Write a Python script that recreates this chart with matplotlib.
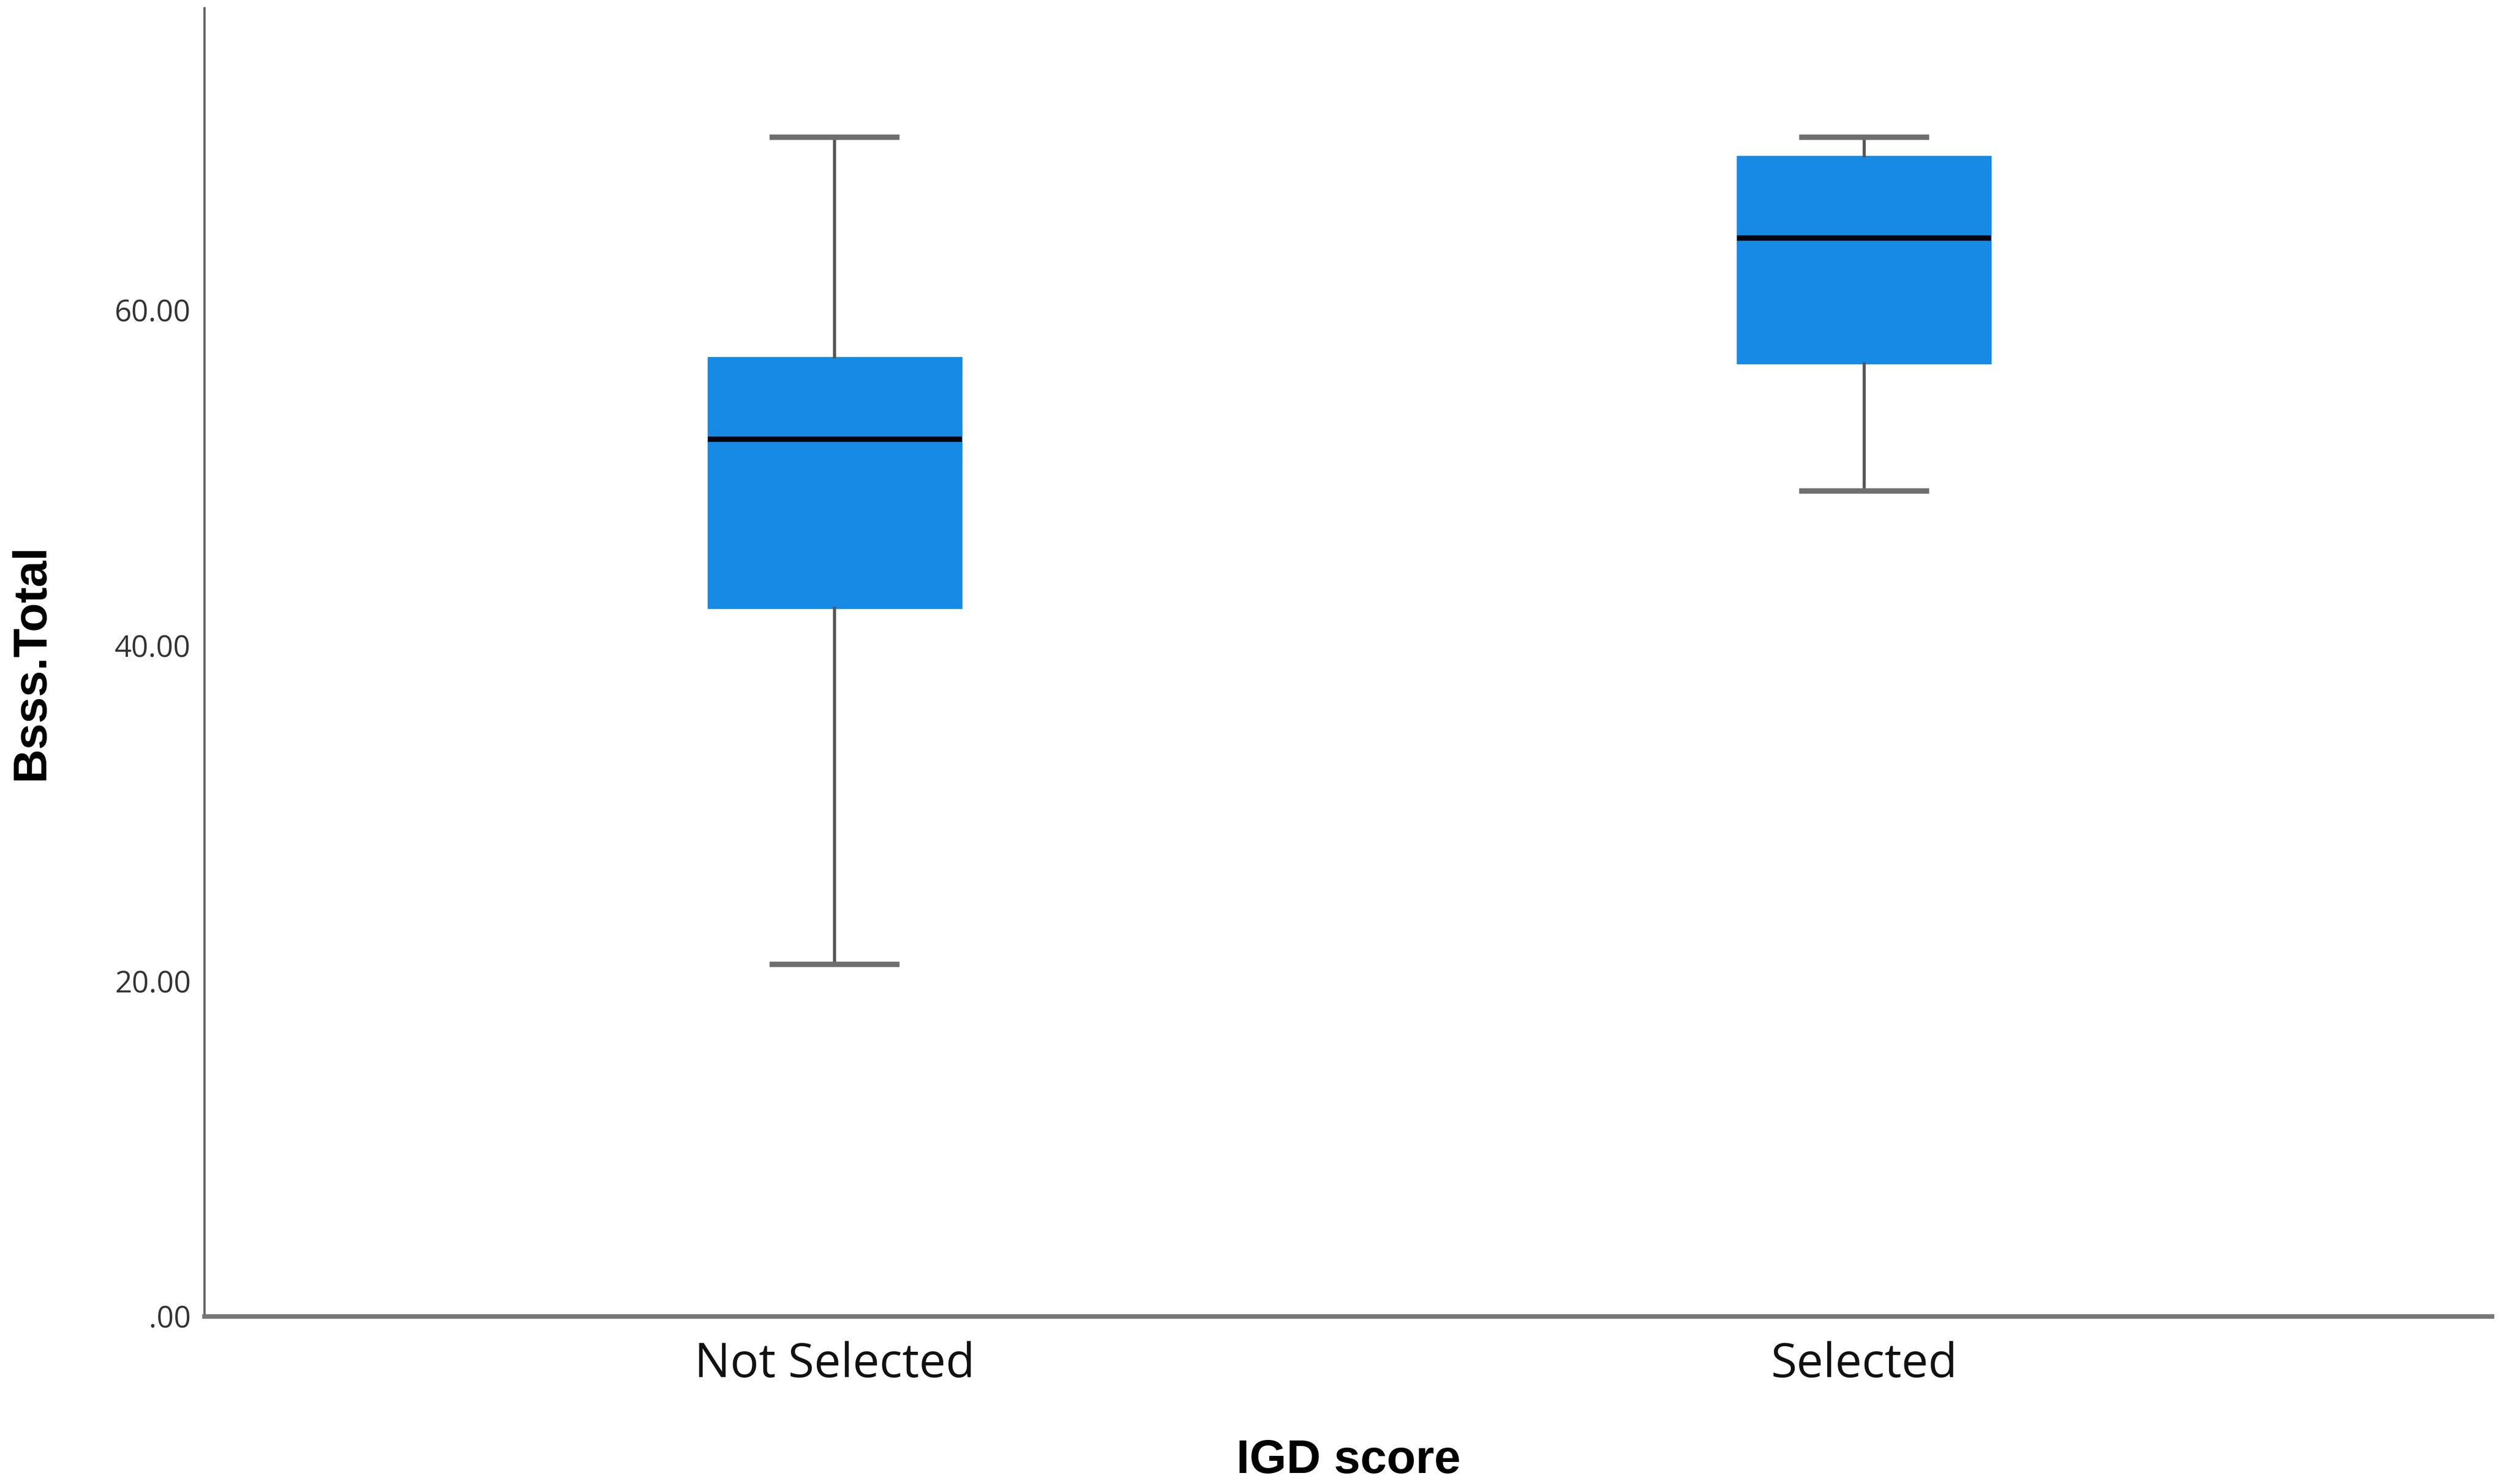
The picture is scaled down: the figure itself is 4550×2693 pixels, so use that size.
import matplotlib
matplotlib.use("Agg")
import matplotlib.pyplot as plt

# values (Bsss.Total by IGD score)
groups = ["Not Selected", "Selected"]
whislo = [21.0, 49.2]
q1 = [42.2, 56.8]
med = [52.3, 64.3]
q3 = [57.2, 69.2]
whishi = [70.3, 70.3]

yticks = [0, 20, 40, 60]
ytick_labels = [".00", "20.00", "40.00", "60.00"]

stats = []
for i in range(len(groups)):
    stats.append({"label": groups[i], "whislo": whislo[i], "q1": q1[i], "med": med[i],
                  "q3": q3[i], "whishi": whishi[i], "fliers": []})

fig = plt.figure(figsize=(45.5, 26.93), dpi=100)
ax = fig.add_axes([0.0816, 0.113, 0.912, 0.8815])

ax.bxp(stats, positions=[0, 1], widths=0.247, patch_artist=True, showfliers=False,
       boxprops=dict(facecolor="#168ae4", edgecolor="#168ae4", linewidth=1),
       medianprops=dict(color="#05050f", linewidth=7),
       whiskerprops=dict(color="#555555", linewidth=4),
       capprops=dict(color="#6e6e6e", linewidth=7),
       capwidths=0.121)

ax.set_xlim(-0.612, 1.61)
ax.set_ylim(0, 78)
ax.set_yticks(yticks)
ax.set_yticklabels(ytick_labels, fontsize=39, color="#333333", family="Open Sans")
ax.set_xticks([0, 1])
ax.set_xticklabels(groups, fontsize=62, family="Open Sans", color="#111111")
ax.tick_params(axis="both", length=0)
ax.tick_params(axis="y", pad=18)
ax.tick_params(axis="x", pad=32)

for s in ["top", "right"]:
    ax.spines[s].set_visible(False)
ax.spines["left"].set_color("#666666")
ax.spines["left"].set_linewidth(3)
ax.spines["bottom"].set_color("#777777")
ax.spines["bottom"].set_linewidth(6)

ax.set_xlabel("IGD score", fontsize=62, fontweight="bold", family="Liberation Sans", labelpad=66)
ax.set_ylabel("Bsss.Total", fontsize=62, fontweight="bold", family="Liberation Sans", labelpad=80)

fig.savefig("out.png", dpi=100)
